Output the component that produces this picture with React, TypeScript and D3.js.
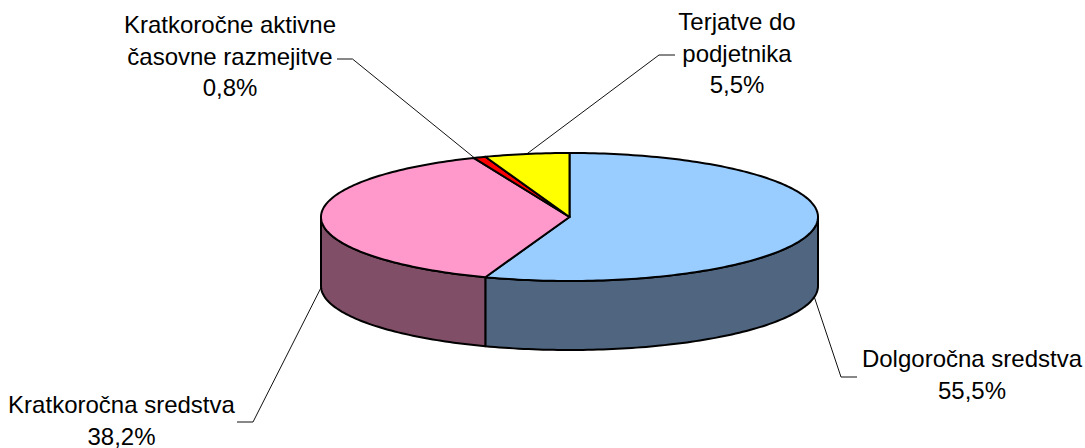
import React from "react";
import * as d3 from "d3";

const categories = ["Dolgoročna sredstva", "Kratkoročna sredstva", "Kratkoročne aktivne časovne razmejitve", "Terjatve do podjetnika"];
const shares = [55.5, 38.2, 0.8, 5.5];
const shareLabels = ["55,5%", "38,2%", "0,8%", "5,5%"];
const labelLines = [["Dolgoročna sredstva"], ["Kratkoročna sredstva"], ["Kratkoročne aktivne", "časovne razmejitve"], ["Terjatve do", "podjetnika"]];
const topColors = ["#99ccff", "#ff99cc", "#ff0000", "#ffff00"];
const sideColors = ["#4f6580", "#804e66", "#800000", "#808000"];

const CX = 569.5, CY = 217, RX = 248.5, RY = 64, DEPTH = 69;
const labelLayout = [
  { x: 972, y: 367, elbow: [841, 377], end: [857, 377], drop: DEPTH, anchorShift: 0 },
  { x: 121.5, y: 413, elbow: [253, 422], end: [237, 422], drop: DEPTH, anchorShift: 0 },
  { x: 230, y: 33, elbow: [352.5, 59], end: [337, 59], drop: 0, anchorShift: -0.022 },
  { x: 737, y: 30, elbow: [659, 55], end: [675, 55], drop: 0, anchorShift: 0 },
];
const LINE_H = 31.5;

const px = (a: number) => CX + RX * Math.sin(a);
const py = (a: number, d = 0) => CY - RY * Math.cos(a) + d;

function arcPts(a0: number, a1: number, d = 0) {
  const n = Math.max(2, Math.ceil(Math.abs(a1 - a0) / 0.02));
  return d3.range(n + 1).map((i) => {
    const a = a0 + ((a1 - a0) * i) / n;
    return [px(a), py(a, d)] as [number, number];
  });
}
const line = d3.line();

export default function App() {
  const pie = d3.pie<number>().sort(null).value((d) => d);
  const arcs = pie(shares);
  return (
    <svg width={1085} height={448} style={{ position: "absolute", left: 0, top: 0, background: "#fff" }} fontFamily="'Liberation Sans', Arial, sans-serif" fontSize={24}>
      {arcs.map((s, i) => {
        const l = labelLayout[i];
        const a = (s.startAngle + s.endAngle) / 2 + l.anchorShift;
        const pts: [number, number][] = [[px(a), py(a, l.drop)], l.elbow as [number, number], l.end as [number, number]];
        return <path key={"lead" + i} d={line(pts)!} fill="none" stroke="#111" strokeWidth={1} />;
      })}
      {arcs.map((s, i) => {
        const lo = Math.max(s.startAngle, Math.PI / 2);
        const hi = Math.min(s.endAngle, (3 * Math.PI) / 2);
        if (hi <= lo) return null;
        const pts = [...arcPts(lo, hi), ...arcPts(hi, lo, DEPTH)];
        return <path key={"side" + i} d={line(pts) + "Z"} fill={sideColors[i]} stroke="#000" strokeWidth={2} strokeLinejoin="round" />;
      })}
      {arcs.map((s, i) => {
        const pts: [number, number][] = [[CX, CY], ...arcPts(s.startAngle, s.endAngle)];
        return <path key={"top" + i} d={line(pts) + "Z"} fill={topColors[i]} stroke="#000" strokeWidth={2} strokeLinejoin="round" />;
      })}
      {categories.map((c, i) => {
        const l = labelLayout[i];
        const lines = [...labelLines[i], shareLabels[i]];
        return (
          <text key={c} textAnchor="middle" fill="#000" x={l.x}>
            {lines.map((t, j) => (
              <tspan key={j} x={l.x} y={l.y + j * LINE_H}>{t}</tspan>
            ))}
          </text>
        );
      })}
    </svg>
  );
}
